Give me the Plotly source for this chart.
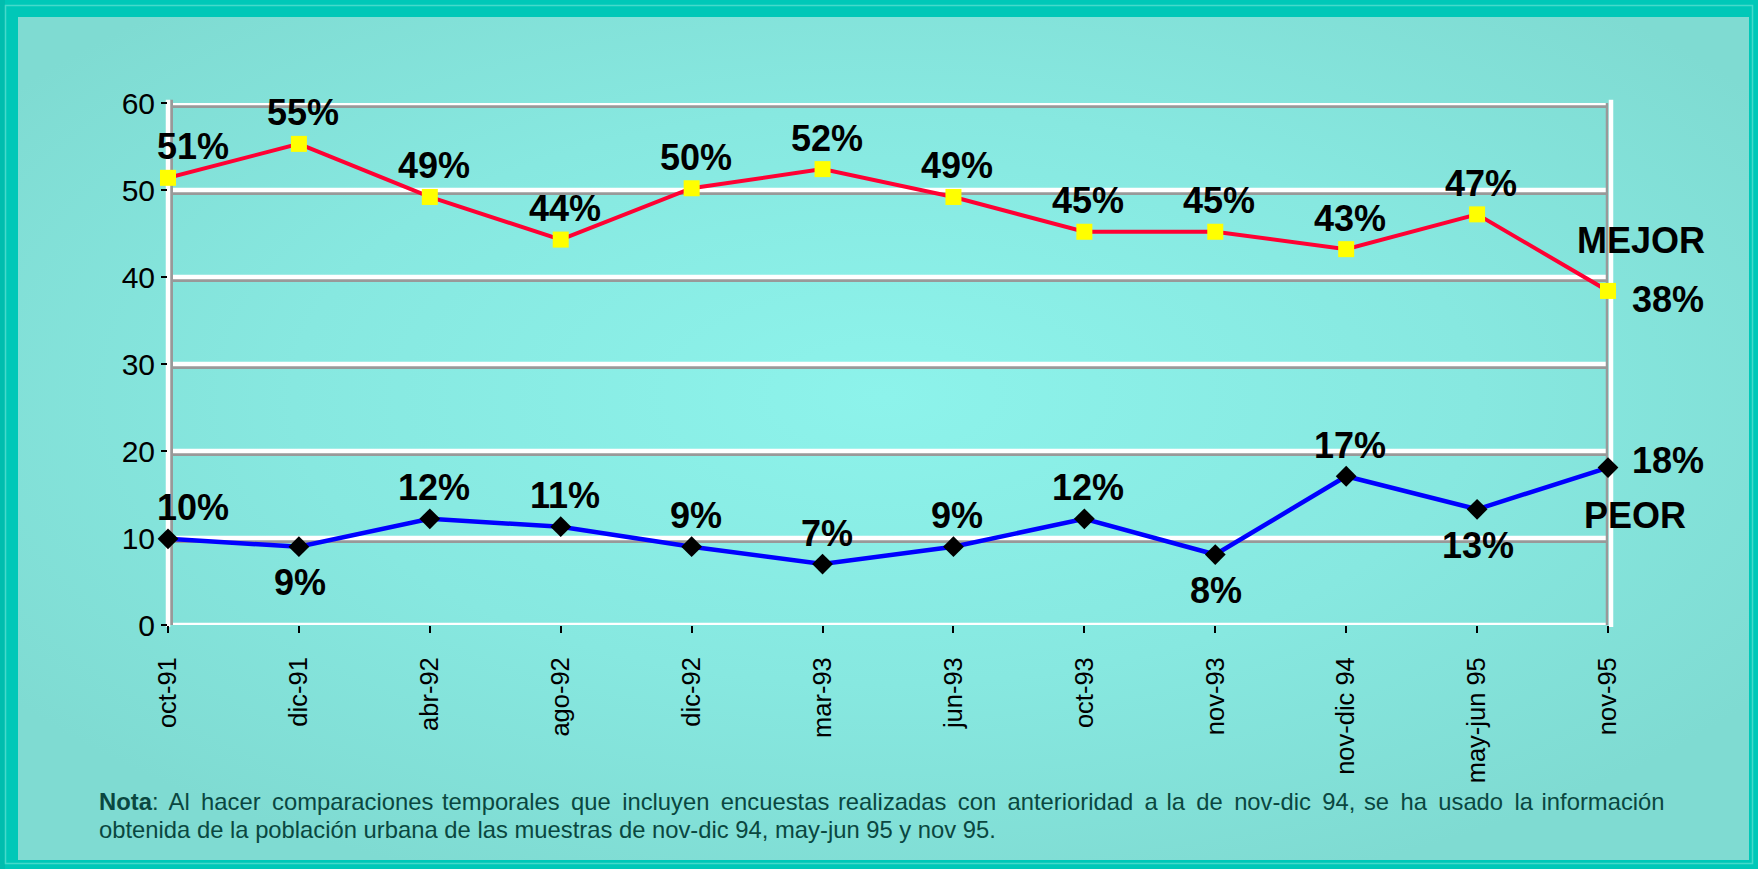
import base64
import plotly.graph_objects as go

# ---------------- data ----------------
categories = ["oct-91", "dic-91", "abr-92", "ago-92", "dic-92", "mar-93",
              "jun-93", "oct-93", "nov-93", "nov-dic 94", "may-jun 95", "nov-95"]
mejor_values = [51.4, 55.3, 49.2, 44.3, 50.2, 52.4, 49.2, 45.2, 45.2, 43.2, 47.2, 38.4]
peor_values = [9.9, 9.0, 12.2, 11.3, 9.0, 7.0, 9.0, 12.2, 8.1, 17.1, 13.3, 18.1]
mejor_labels = ["51%", "55%", "49%", "44%", "50%", "52%", "49%", "45%", "45%", "43%", "47%", "38%"]
peor_labels = ["10%", "9%", "12%", "11%", "9%", "7%", "9%", "12%", "8%", "17%", "13%", "18%"]
series_names = ["MEJOR", "PEOR"]
y_ticks = [0, 10, 20, 30, 40, 50, 60]
note_line1 = "Al hacer comparaciones temporales que incluyen encuestas realizadas con anterioridad a la de nov-dic 94, se ha usado la información"
note_line2 = "obtenida de la población urbana de las muestras de nov-dic 94, may-jun 95 y nov 95."

# label placement (style, not data)
mejor_place = ["above_right"] + ["above"] * 10 + ["right_low"]
peor_place = ["above_right", "below", "above", "above", "above", "above",
              "above", "above", "below", "above", "below", "right_high"]

# ---------------- layout geometry ----------------
W, H = 1758, 869
L, R, T, B = 168, 1608, 103, 625
FONT = "Arial, 'Liberation Sans', sans-serif"


def px_x(px):
    return (px - L) / (R - L)


def px_y(py):
    return (B - py) / (B - T)


# background (border + soft radial gradient) as an SVG image
svg = f"""<svg xmlns="http://www.w3.org/2000/svg" width="{W}" height="{H}" viewBox="0 0 {W} {H}" preserveAspectRatio="none">
<defs>
<radialGradient id="g" cx="0.5" cy="0.45" r="0.62">
<stop offset="0" stop-color="#8DF3EB"/>
<stop offset="0.55" stop-color="#87E8E0"/>
<stop offset="1" stop-color="#7FDBD2"/>
</radialGradient>
</defs>
<rect x="0" y="0" width="{W}" height="{H}" fill="#00C8B8"/>
<rect x="0" y="0" width="5" height="{H}" fill="#00BDAE"/>
<rect x="5.5" y="5.5" width="{W-11}" height="{H-11}" fill="none" stroke="#45D9CB" stroke-width="1.5"/>
<rect x="18" y="17" width="{1749-18}" height="{860-17}" fill="url(#g)"/>
</svg>"""
svg_uri = "data:image/svg+xml;base64," + base64.b64encode(svg.encode("utf-8")).decode("ascii")

fig = go.Figure()

fig.add_trace(go.Scatter(
    x=categories, y=mejor_values, mode="lines+markers", name=series_names[0],
    line=dict(color="#FF0033", width=4),
    marker=dict(symbol="square", size=16, color="#FFFF00", line=dict(width=0)),
    cliponaxis=False, hoverinfo="skip",
))
fig.add_trace(go.Scatter(
    x=categories, y=peor_values, mode="lines+markers", name=series_names[1],
    line=dict(color="#0000FF", width=4.5),
    marker=dict(symbol="diamond", size=16, color="#000000", line=dict(width=0)),
    cliponaxis=False, hoverinfo="skip",
))

# gridlines / frame with 3D shadow
shapes = []
for v in y_ticks:
    shapes.append(dict(type="line", xref="paper", yref="y", x0=0, x1=1.0,
                       ysizemode="pixel", yanchor=v, y0=-3.5, y1=-3.5,
                       line=dict(color="#999999", width=3), layer="below"))
    shapes.append(dict(type="line", xref="paper", yref="y", x0=0, x1=1.0,
                       ysizemode="pixel", yanchor=v, y0=0, y1=0,
                       line=dict(color="#FFFFFF", width=4.5), layer="below"))
# left axis
shapes.append(dict(type="line", xref="paper", yref="paper", y0=0, y1=1.006,
                   xsizemode="pixel", xanchor=0, x0=3.5, x1=3.5,
                   line=dict(color="#999999", width=3), layer="below"))
shapes.append(dict(type="line", xref="paper", yref="paper", y0=-0.004, y1=1.006,
                   xsizemode="pixel", xanchor=0, x0=0, x1=0,
                   line=dict(color="#FFFFFF", width=4.5), layer="below"))
# right frame
shapes.append(dict(type="line", xref="paper", yref="paper", y0=0, y1=1.0,
                   xsizemode="pixel", xanchor=1, x0=-1, x1=-1,
                   line=dict(color="#999999", width=2.5), layer="below"))
shapes.append(dict(type="line", xref="paper", yref="paper", y0=-0.004, y1=1.006,
                   xsizemode="pixel", xanchor=1, x0=3, x1=3,
                   line=dict(color="#FFFFFF", width=4.5), layer="below"))

# data labels
annotations = []
place_style = {
    "above": dict(xanchor="center", yanchor="middle", xshift=4, yshift=31),
    "above_right": dict(xanchor="center", yanchor="middle", xshift=25, yshift=31),
    "below": dict(xanchor="center", yanchor="middle", xshift=1, yshift=-36),
    "right_low": dict(xanchor="left", yanchor="middle", xshift=22, yshift=-9),
    "right_high": dict(xanchor="left", yanchor="middle", xshift=22, yshift=7),
}
label_font = dict(family=FONT, size=36, color="#000000")
for vals, labs, places in ((mejor_values, mejor_labels, mejor_place),
                           (peor_values, peor_labels, peor_place)):
    for cat, v, lab, pl in zip(categories, vals, labs, places):
        annotations.append(dict(x=cat, y=v, xref="x", yref="y", text=f"<b>{lab}</b>",
                                showarrow=False, font=label_font, **place_style[pl]))

# series names next to last point
annotations.append(dict(x=categories[-1], y=mejor_values[-1], xref="x", yref="y",
                        text=f"<b>{series_names[0]}</b>", showarrow=False, font=label_font,
                        xanchor="center", yanchor="middle", xshift=33, yshift=50))
annotations.append(dict(x=categories[-1], y=peor_values[-1], xref="x", yref="y",
                        text=f"<b>{series_names[1]}</b>", showarrow=False, font=label_font,
                        xanchor="center", yanchor="middle", xshift=27, yshift=-48))

# note (line 1 is justified in the original -> widen word spacing slightly)
note_font = dict(family=FONT, size=23.8, color="#0A4740")
words = ["<b>Nota</b>:"] + note_line1.split(" ")
line1 = words[0]
for i, w in enumerate(words[1:]):
    line1 += ("\u200a " if i % 4 == 3 else "\u2009 ") + w
annotations.append(dict(x=px_x(97), y=px_y(801), xref="paper", yref="paper", text=line1,
                        showarrow=False, font=note_font, xanchor="left", yanchor="middle"))
annotations.append(dict(x=px_x(97), y=px_y(829), xref="paper", yref="paper", text=note_line2,
                        showarrow=False, font=note_font, xanchor="left", yanchor="middle"))

fig.update_layout(
    width=W, height=H, autosize=False,
    margin=dict(l=L, r=W - R, t=T, b=H - B, pad=0),
    paper_bgcolor="#00C8B8", plot_bgcolor="rgba(0,0,0,0)",
    showlegend=False,
    font=dict(family=FONT, color="#000000"),
    shapes=shapes,
    annotations=annotations,
    images=[dict(source=svg_uri, xref="paper", yref="paper",
                 x=px_x(0), y=px_y(0), sizex=W / (R - L), sizey=H / (B - T),
                 xanchor="left", yanchor="top", sizing="stretch", layer="below")],
    xaxis=dict(type="category", categoryorder="array", categoryarray=categories,
               range=[0, len(categories) - 1], tickangle=-90,
               tickfont=dict(family=FONT, size=25.5, color="#000000"),
               ticks="outside", ticklen=7, tickwidth=2, tickcolor="#000000",
               ticklabelstandoff=14,
               showgrid=False, showline=False, zeroline=False, fixedrange=True),
    yaxis=dict(range=[0, 60], tickvals=y_ticks, ticktext=[str(t) for t in y_ticks],
               tickfont=dict(family=FONT, size=30, color="#000000"),
               ticks="outside", ticklen=6, tickwidth=2, tickcolor="#000000",
               showgrid=False, showline=False, zeroline=False, fixedrange=True),
)

fig.write_html("out.html", config={"displayModeBar": False},
               post_script="document.body.style.margin='0';document.body.style.overflow='hidden';")
